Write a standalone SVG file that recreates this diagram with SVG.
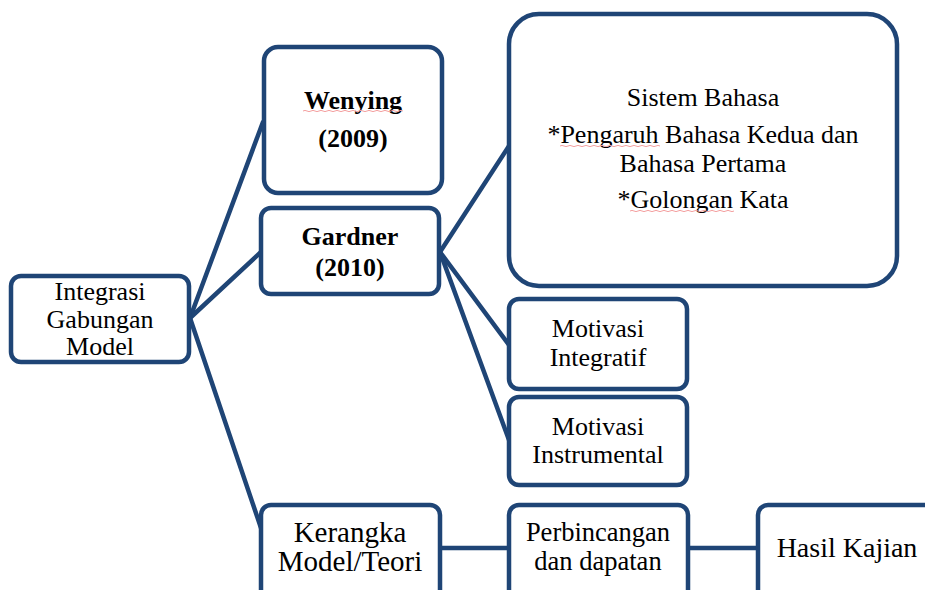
<svg xmlns="http://www.w3.org/2000/svg" width="925" height="590" viewBox="0 0 925 590">
<style>
.box{fill:#fff;stroke:#1f4576;stroke-width:4.5}
.ln{stroke:#1f4576;stroke-width:4.5;fill:none;stroke-linecap:round}
text{font-family:"Liberation Serif","Times New Roman",serif;fill:#000;text-anchor:middle;font-size:26px}
.b{font-weight:bold}
.f29{font-size:29px}
.f28{font-size:28px}
.f265{font-size:26.5px}
.sp{stroke:#f4a0a0;stroke-width:1;fill:none}
</style>
<rect width="925" height="590" fill="#fff"/>
<g id="connectors">
<line class="ln" x1="190" y1="318" x2="263" y2="122"/>
<line class="ln" x1="190" y1="318" x2="261" y2="252"/>
<line class="ln" x1="190" y1="318" x2="261" y2="528"/>
<line class="ln" x1="440" y1="252" x2="509" y2="146"/>
<line class="ln" x1="440" y1="252" x2="509" y2="345"/>
<line class="ln" x1="440" y1="252" x2="509" y2="440"/>
<line class="ln" x1="440" y1="548" x2="509" y2="548"/>
<line class="ln" x1="688" y1="548" x2="757" y2="548"/>
</g>
<g id="integrasi">
<rect class="box" x="11" y="276" width="178" height="86" rx="10"/>
<text x="100" y="300">Integrasi</text>
<text x="100" y="328">Gabungan</text>
<text x="100" y="355">Model</text>
</g>
<g id="wenying">
<rect class="box" x="264" y="47" width="178" height="146" rx="14"/>
<text class="b" x="353" y="109">Wenying</text>
<path class="sp" d="M303 111 q2 -1.2 4 0 t4 0 t4 0 t4 0 t4 0 t4 0 t4 0 t4 0 t4 0 t4 0 t4 0 t4 0 t4 0 t4 0 t4 0 t4 0 t4 0 t4 0 t4 0 t4 0 t4 0 t4 0 t4 0 t4 0 t4 0"/>
<text class="b" x="353" y="147">(2009)</text>
</g>
<g id="gardner">
<rect class="box" x="261" y="208" width="178" height="86" rx="10"/>
<text class="b" x="350" y="245">Gardner</text>
<text class="b" x="350" y="276">(2010)</text>
</g>
<g id="sistem">
<rect class="box" x="509" y="14" width="388" height="272" rx="30"/>
<text x="703" y="106">Sistem Bahasa</text>
<text x="703" y="143">*Pengaruh Bahasa Kedua dan</text>
<path class="sp" d="M560 146 q2 -1.2 4 0 t4 0 t4 0 t4 0 t4 0 t4 0 t4 0 t4 0 t4 0 t4 0 t4 0 t4 0 t4 0 t4 0 t4 0 t4 0 t4 0 t4 0 t4 0 t4 0 t4 0 t4 0 t4 0 t4 0 t4 0"/>
<text x="703" y="172">Bahasa Pertama</text>
<text x="703" y="208">*Golongan Kata</text>
<path class="sp" d="M630 211 q2 -1.2 4 0 t4 0 t4 0 t4 0 t4 0 t4 0 t4 0 t4 0 t4 0 t4 0 t4 0 t4 0 t4 0 t4 0 t4 0 t4 0 t4 0 t4 0 t4 0 t4 0 t4 0 t4 0 t4 0 t4 0 t4 0 t4 0"/>
</g>
<g id="integratif">
<rect class="box" x="509" y="299" width="178" height="90" rx="10"/>
<text x="598" y="337">Motivasi</text>
<text x="598" y="366">Integratif</text>
</g>
<g id="instrumental">
<rect class="box" x="509" y="397" width="178" height="88" rx="10"/>
<text x="598" y="435">Motivasi</text>
<text x="598" y="463">Instrumental</text>
</g>
<g id="kerangka">
<rect class="box" x="261" y="505" width="179" height="110" rx="10"/>
<text class="f29" x="350" y="542">Kerangka</text>
<text class="f29" x="350" y="571">Model/Teori</text>
</g>
<g id="perbincangan">
<rect class="box" x="509" y="505" width="179" height="110" rx="10"/>
<text class="f265" x="598" y="541">Perbincangan</text>
<text class="f265" x="598" y="570">dan dapatan</text>
</g>
<g id="hasil">
<rect class="box" x="758" y="505" width="200" height="110" rx="10"/>
<text class="f28" x="847" y="557">Hasil Kajian</text>
</g>
</svg>
